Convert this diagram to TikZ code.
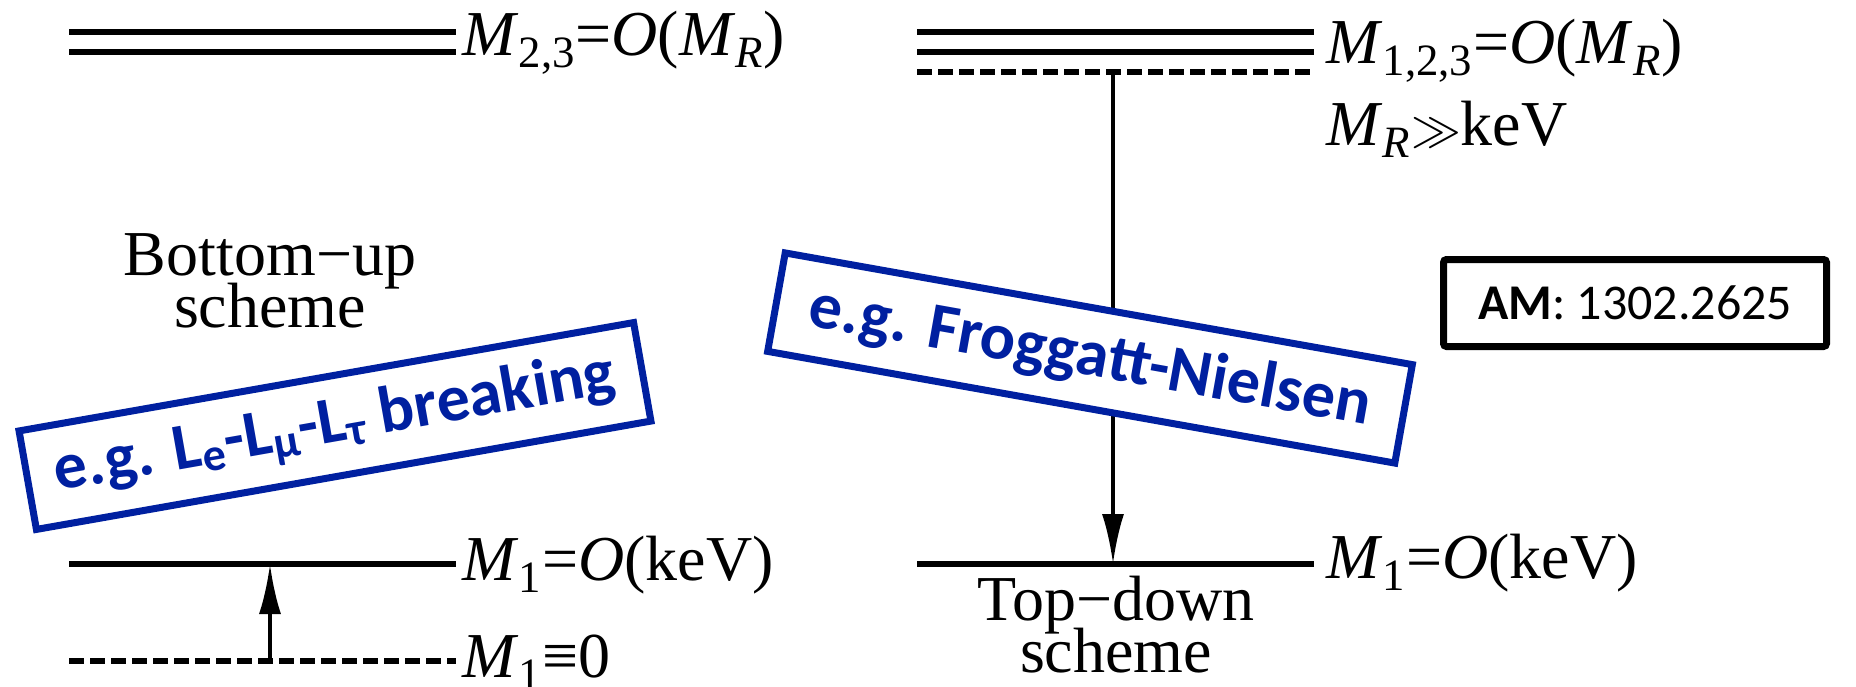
\documentclass[tikz,border=0pt]{standalone}
\usepackage{fontspec}
\setmainfont{Liberation Serif}
\newfontfamily\calibri{Carlito}
\usetikzlibrary{arrows.meta,positioning}
\definecolor{egblue}{RGB}{0,32,160}
\tikzset{
  level/.style={line width=3pt},
  levdash/.style={line width=3pt, dash pattern=on 7.5pt off 3pt},
  lab/.style={font=\fontsize{32}{38}\selectfont, inner sep=0pt, anchor=base west},
  schemetxt/.style={font=\fontsize{32}{38}\selectfont, inner sep=0pt, anchor=base},
  egbox/.style={draw=egblue, line width=3.5pt, text=egblue, inner xsep=0pt,
    minimum height=50pt, font=\calibri\bfseries\fontsize{33}{40}\selectfont},
  refbox/.style={draw, line width=3.5pt, rounded corners=1.5pt, minimum width=191.5pt,
    minimum height=43.5pt, font=\calibri\fontsize{25}{30}\selectfont},
  massarrow/.style={-{Latex[length=25pt,width=11pt]}, line width=2pt}
}
\begin{document}
\begin{tikzpicture}[x=0.5pt,y=-0.5pt]
\useasboundingbox (0,0) rectangle (1856,686);
% bottom-up side
\draw[level] (69,32) -- (456,32);
\draw[level] (69,52) -- (456,52);
\draw[level] (69,564) -- (456,564);
\draw[levdash] (69,661) -- (456,661);
\node (m23) [lab] at (462,55) {\textit{M}\textsubscript{2,3}=\textit{O}(\textit{M}\textsubscript{\textit{R}})};
\node (m1left) [lab] at (462,580) {\textit{M}\textsubscript{1}=\textit{O}(keV)};
\node (m1zero) [lab] at (462,677) {\textit{M}\textsubscript{1}≡0};
\coordinate (zero) at (270,661);
\coordinate (kevleft) at (270,564);
\draw[massarrow] (zero) -- (kevleft);
\node (bu1) [schemetxt] at (270,275) {Bottom−up};
\node (bu2) [schemetxt] at ([yshift=-26pt]bu1.base) {scheme};
\node (lbreak) [egbox, rotate=10, minimum width=312pt] at (335,426)
  {e.g. L\textsubscript{e}-L\textsubscript{μ}-L\textsubscript{τ} breaking\hspace{4pt}};
% top-down side
\draw[level] (917,32) -- (1314,32);
\draw[level] (917,52) -- (1314,52);
\draw[levdash] (917,72) -- (1314,72);
\draw[level] (917,564) -- (1314,564);
\node (m123) [lab] at (1326,63) {\textit{M}\textsubscript{1,2,3}=\textit{O}(\textit{M}\textsubscript{\textit{R}})};
\node (mrkev) [lab] at (1326,145) {\textit{M}\textsubscript{\textit{R}}$\gg$keV};
\node (m1right) [lab] at (1326,578) {\textit{M}\textsubscript{1}=\textit{O}(keV)};
\coordinate (heavy) at (1113,72);
\coordinate (kevright) at (1113,564);
\draw[massarrow] (heavy) -- (kevright);
\node (td1) [schemetxt] at (1116,620) {Top−down};
\node (td2) [schemetxt] at ([yshift=-26pt]td1.base) {scheme};
\node (fn) [egbox, rotate=-10.1, minimum width=318.5pt, fill=white] at (1090,358)
  {e.g. Froggatt-Nielsen\hspace{12pt}};
% reference
\node (am) [refbox] at (1635,303) {\textbf{AM}: 1302.2625};
\end{tikzpicture}
\end{document}
